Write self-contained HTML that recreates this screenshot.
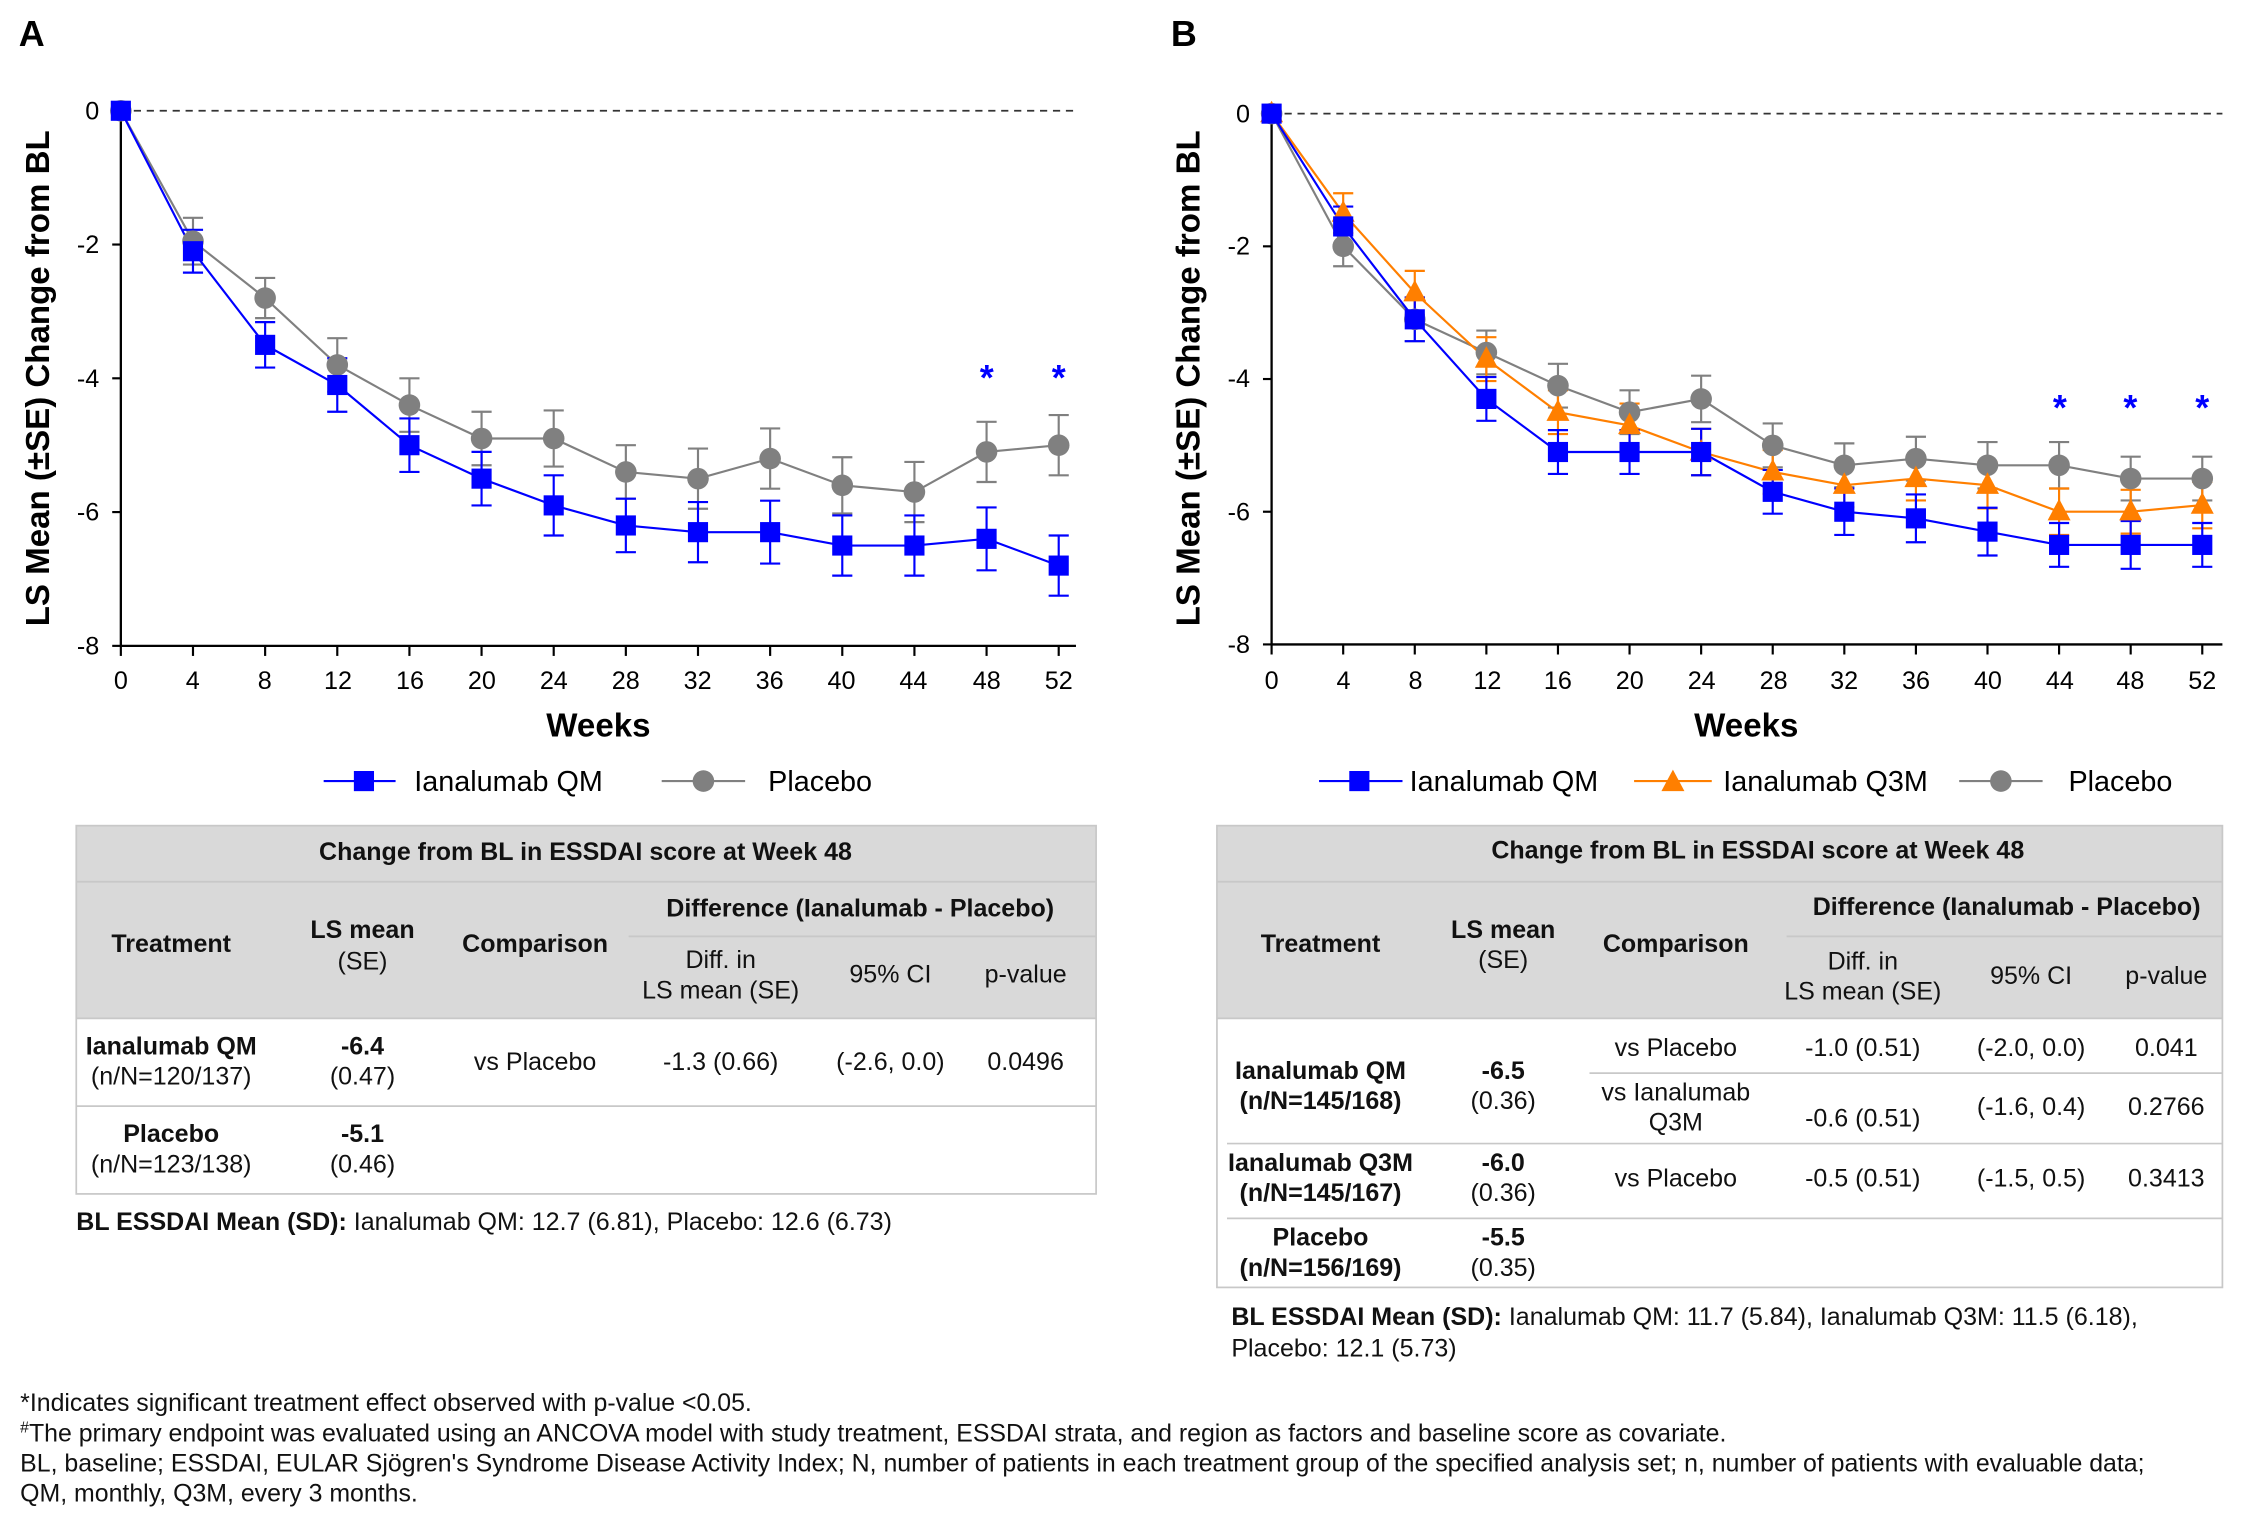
<!DOCTYPE html>
<html><head><meta charset="utf-8"><style>
html,body{margin:0;padding:0;background:#fff}
svg{display:block}
text{font-family:"Liberation Sans",sans-serif}
</style></head><body>
<svg id="s" width="2244" height="1520" viewBox="0 0 1560 1056.7" xmlns="http://www.w3.org/2000/svg">
<rect width="1560" height="1057" fill="#fff"/>
<text x="13" y="32" font-size="25" font-weight="bold">A</text>
<text x="814" y="32" font-size="25" font-weight="bold">B</text>
<g stroke="#000" stroke-width="1.6" fill="none">
<line x1="84" y1="70" x2="84" y2="449"/><line x1="84" y1="449" x2="748" y2="449"/>
<line x1="884" y1="72" x2="884" y2="448"/><line x1="884" y1="448" x2="1545" y2="448"/>
</g>
<line x1="84" y1="77" x2="748" y2="77" stroke="#333" stroke-width="1.2" stroke-dasharray="5,4"/>
<line x1="884" y1="79" x2="1545" y2="79" stroke="#333" stroke-width="1.2" stroke-dasharray="5,4"/>
<g id="ticks"></g>
<g font-size="17.5" text-anchor="end">
<text x="69" y="83">0</text><text x="69" y="176">-2</text><text x="69" y="269">-4</text><text x="69" y="362">-6</text><text x="69" y="455">-8</text>
<text x="869" y="85">0</text><text x="869" y="177">-2</text><text x="869" y="269">-4</text><text x="869" y="362">-6</text><text x="869" y="454">-8</text>
</g>
<g font-size="17.5" text-anchor="middle">
<text x="84" y="479">0</text><text x="134" y="479">4</text><text x="184" y="479">8</text><text x="235" y="479">12</text><text x="285" y="479">16</text><text x="335" y="479">20</text><text x="385" y="479">24</text><text x="435" y="479">28</text><text x="485" y="479">32</text><text x="535" y="479">36</text><text x="585" y="479">40</text><text x="635" y="479">44</text><text x="686" y="479">48</text><text x="736" y="479">52</text>
<text x="884" y="479">0</text><text x="934" y="479">4</text><text x="984" y="479">8</text><text x="1034" y="479">12</text><text x="1083" y="479">16</text><text x="1133" y="479">20</text><text x="1183" y="479">24</text><text x="1233" y="479">28</text><text x="1282" y="479">32</text><text x="1332" y="479">36</text><text x="1382" y="479">40</text><text x="1432" y="479">44</text><text x="1481" y="479">48</text><text x="1531" y="479">52</text>
</g>
<text x="416" y="512" font-size="23" font-weight="bold" text-anchor="middle">Weeks</text>
<text x="1214" y="512" font-size="23" font-weight="bold" text-anchor="middle">Weeks</text>
<text transform="translate(34,263) rotate(-90)" font-size="23" font-weight="bold" text-anchor="middle">LS Mean (±SE) Change from BL</text>
<text transform="translate(834,263) rotate(-90)" font-size="23" font-weight="bold" text-anchor="middle">LS Mean (±SE) Change from BL</text>
<g id="data"></g>
<g font-size="25" font-weight="bold" fill="#0000ff" text-anchor="middle">
<text x="686" y="271">*</text><text x="736" y="271">*</text>
<text x="1432" y="292">*</text><text x="1481" y="292">*</text><text x="1531" y="292">*</text>
</g>
<g font-size="20">
<line x1="225" y1="543" x2="275" y2="543" stroke="#0000ff" stroke-width="1.5"/><rect x="246" y="536" width="14" height="14" fill="#0000ff"/>
<text x="288" y="550">Ianalumab QM</text>
<line x1="460" y1="543" x2="518" y2="543" stroke="#808080" stroke-width="1.5"/><circle cx="489" cy="543" r="7.5" fill="#808080"/>
<text x="534" y="550">Placebo</text>
<line x1="917" y1="543" x2="975" y2="543" stroke="#0000ff" stroke-width="1.5"/><rect x="938" y="536" width="14" height="14" fill="#0000ff"/>
<text x="980" y="550">Ianalumab QM</text>
<line x1="1136" y1="543" x2="1190" y2="543" stroke="#ff7f00" stroke-width="1.5"/><polygon points="1163,535 1171,550 1155,550" fill="#ff7f00"/>
<text x="1198" y="550">Ianalumab Q3M</text>
<line x1="1362" y1="543" x2="1420" y2="543" stroke="#808080" stroke-width="1.5"/><circle cx="1391" cy="543" r="7.5" fill="#808080"/>
<text x="1438" y="550">Placebo</text>
</g>
<rect x="53" y="574" width="709" height="134" fill="#d9d9d9"/>
<rect x="53" y="574" width="709" height="256" fill="none" stroke="#c8c8c8" stroke-width="1.2"/>
<g stroke="#c8c8c8" stroke-width="1.2">
<line x1="53" y1="613" x2="762" y2="613"/><line x1="437" y1="651" x2="762" y2="651"/>
<line x1="53" y1="708" x2="762" y2="708"/><line x1="53" y1="769" x2="762" y2="769"/>
</g>
<g font-size="17.4" text-anchor="middle" fill="#111">
<text x="407" y="598" font-weight="bold">Change from BL in ESSDAI score at Week 48</text>
<text x="119" y="662" font-weight="bold">Treatment</text>
<text x="252" y="652" font-weight="bold">LS mean</text><text x="252" y="674">(SE)</text>
<text x="372" y="662" font-weight="bold">Comparison</text>
<text x="598" y="637" font-weight="bold">Difference (Ianalumab - Placebo)</text>
<text x="501" y="673">Diff. in</text><text x="501" y="694">LS mean (SE)</text>
<text x="619" y="683">95% CI</text><text x="713" y="683">p-value</text>
<text x="119" y="733" font-weight="bold">Ianalumab QM</text><text x="119" y="754">(n/N=120/137)</text>
<text x="252" y="733" font-weight="bold">-6.4</text><text x="252" y="754">(0.47)</text>
<text x="372" y="744">vs Placebo</text><text x="501" y="744">-1.3 (0.66)</text><text x="619" y="744">(-2.6, 0.0)</text><text x="713" y="744">0.0496</text>
<text x="119" y="794" font-weight="bold">Placebo</text><text x="119" y="815">(n/N=123/138)</text>
<text x="252" y="794" font-weight="bold">-5.1</text><text x="252" y="815">(0.46)</text>
</g>
<text x="53" y="855" font-size="17.4" fill="#111"><tspan font-weight="bold">BL ESSDAI Mean (SD):</tspan> Ianalumab QM: 12.7 (6.81), Placebo: 12.6 (6.73)</text>
<rect x="846" y="574" width="699" height="134" fill="#d9d9d9"/>
<rect x="846" y="574" width="699" height="321" fill="none" stroke="#c8c8c8" stroke-width="1.2"/>
<g stroke="#c8c8c8" stroke-width="1.2">
<line x1="846" y1="613" x2="1545" y2="613"/><line x1="1242" y1="651" x2="1545" y2="651"/>
<line x1="846" y1="708" x2="1545" y2="708"/><line x1="1105" y1="746" x2="1545" y2="746"/>
<line x1="853" y1="795" x2="1545" y2="795"/><line x1="853" y1="847" x2="1545" y2="847"/>
</g>
<g font-size="17.4" text-anchor="middle" fill="#111">
<text x="1222" y="597" font-weight="bold">Change from BL in ESSDAI score at Week 48</text>
<text x="918" y="662" font-weight="bold">Treatment</text>
<text x="1045" y="652" font-weight="bold">LS mean</text><text x="1045" y="673">(SE)</text>
<text x="1165" y="662" font-weight="bold">Comparison</text>
<text x="1395" y="636" font-weight="bold">Difference (Ianalumab - Placebo)</text>
<text x="1295" y="674">Diff. in</text><text x="1295" y="695">LS mean (SE)</text>
<text x="1412" y="684">95% CI</text><text x="1506" y="684">p-value</text>
<text x="918" y="750" font-weight="bold">Ianalumab QM</text><text x="918" y="771" font-weight="bold">(n/N=145/168)</text>
<text x="1045" y="750" font-weight="bold">-6.5</text><text x="1045" y="771">(0.36)</text>
<text x="1165" y="734">vs Placebo</text><text x="1295" y="734">-1.0 (0.51)</text><text x="1412" y="734">(-2.0, 0.0)</text><text x="1506" y="734">0.041</text>
<text x="1165" y="765">vs Ianalumab</text><text x="1165" y="786">Q3M</text><text x="1295" y="783">-0.6 (0.51)</text><text x="1412" y="775">(-1.6, 0.4)</text><text x="1506" y="775">0.2766</text>
<text x="918" y="814" font-weight="bold">Ianalumab Q3M</text><text x="918" y="835" font-weight="bold">(n/N=145/167)</text>
<text x="1045" y="814" font-weight="bold">-6.0</text><text x="1045" y="835">(0.36)</text>
<text x="1165" y="825">vs Placebo</text><text x="1295" y="825">-0.5 (0.51)</text><text x="1412" y="825">(-1.5, 0.5)</text><text x="1506" y="825">0.3413</text>
<text x="918" y="866" font-weight="bold">Placebo</text><text x="918" y="887" font-weight="bold">(n/N=156/169)</text>
<text x="1045" y="866" font-weight="bold">-5.5</text><text x="1045" y="887">(0.35)</text>
</g>
<text x="856" y="921" font-size="17.4" fill="#111"><tspan font-weight="bold">BL ESSDAI Mean (SD):</tspan> Ianalumab QM: 11.7 (5.84), Ianalumab Q3M: 11.5 (6.18),</text>
<text x="856" y="943" font-size="17.4" fill="#111">Placebo: 12.1 (5.73)</text>
<g font-size="17.3" fill="#111">
<text x="14" y="981">*Indicates significant treatment effect observed with p-value &lt;0.05.</text>
<text x="14" y="1002"><tspan font-size="11" dy="-6">#</tspan><tspan dy="6">The primary endpoint was evaluated using an ANCOVA model with study treatment, ESSDAI strata, and region as factors and baseline score as covariate.</tspan></text>
<text x="14" y="1023">BL, baseline; ESSDAI, EULAR Sjögren's Syndrome Disease Activity Index; N, number of patients in each treatment group of the specified analysis set; n, number of patients with evaluable data;</text>
<text x="14" y="1044">QM, monthly, Q3M, every 3 months.</text>
</g>
</svg>
<script>
var NS="http://www.w3.org/2000/svg",g=document.getElementById("data"),tk=document.getElementById("ticks");
function el(t,a,p){var e=document.createElementNS(NS,t);for(var k in a)e.setAttribute(k,a[k]);(p||g).appendChild(e);return e;}
var W=[0,4,8,12,16,20,24,28,32,36,40,44,48,52];
function panel(P,series){
 var X=function(w){return P.x0+(P.x52-P.x0)*w/52},Y=function(v){return P.y0+(P.y8-P.y0)*(-v)/8};
 W.forEach(function(w){el("line",{x1:X(w),x2:X(w),y1:P.y8,y2:P.y8+7,stroke:"#000","stroke-width":1.5},tk)});
 [0,-2,-4,-6,-8].forEach(function(v){el("line",{x1:P.x0-6,x2:P.x0,y1:Y(v),y2:Y(v),stroke:"#000","stroke-width":1.5},tk)});
 series.forEach(function(s){
  var pts=W.map(function(w,i){return X(w)+","+Y(s.v[i])}).join(" ");
  el("polyline",{points:pts,fill:"none",stroke:s.c,"stroke-width":1.5});
  W.forEach(function(w,i){if(!i)return;var x=X(w),a=Y(s.v[i]-s.se[i]),b=Y(s.v[i]+s.se[i]);
   el("line",{x1:x,x2:x,y1:a,y2:b,stroke:s.c,"stroke-width":1.5});
   el("line",{x1:x-7,x2:x+7,y1:a,y2:a,stroke:s.c,"stroke-width":1.5});
   el("line",{x1:x-7,x2:x+7,y1:b,y2:b,stroke:s.c,"stroke-width":1.5});});
 });
 series.forEach(function(s){W.forEach(function(w,i){var x=X(w),y=Y(s.v[i]);
  if(s.m=="s")el("rect",{x:x-7,y:y-7,width:14,height:14,fill:s.c});
  else if(s.m=="c")el("circle",{cx:x,cy:y,r:7.5,fill:s.c});
  else el("polygon",{points:x+","+(y-9)+" "+(x+8)+","+(y+6)+" "+(x-8)+","+(y+6),fill:s.c});});});
}
panel({x0:84,x52:736,y0:77,y8:449},[
 {c:"#808080",m:"c",v:[0,-1.95,-2.8,-3.8,-4.4,-4.9,-4.9,-5.4,-5.5,-5.2,-5.6,-5.7,-5.1,-5.0],se:[0,.35,.3,.4,.4,.4,.42,.4,.45,.45,.42,.45,.45,.45]},
 {c:"#0000ff",m:"s",v:[0,-2.1,-3.5,-4.1,-5.0,-5.5,-5.9,-6.2,-6.3,-6.3,-6.5,-6.5,-6.4,-6.8],se:[0,.32,.34,.4,.4,.4,.45,.4,.45,.47,.45,.45,.47,.45]}]);
panel({x0:884,x52:1531,y0:79,y8:448},[
 {c:"#808080",m:"c",v:[0,-2.0,-3.1,-3.6,-4.1,-4.5,-4.3,-5.0,-5.3,-5.2,-5.3,-5.3,-5.5,-5.5],se:[0,.3,.33,.33,.33,.33,.35,.33,.33,.33,.35,.35,.33,.33]},
 {c:"#ff7f00",m:"t",v:[0,-1.5,-2.7,-3.7,-4.5,-4.7,-5.1,-5.4,-5.6,-5.5,-5.6,-6.0,-6.0,-5.9],se:[0,.3,.33,.33,.33,.33,.35,.33,.33,.33,.35,.35,.33,.35]},
 {c:"#0000ff",m:"s",v:[0,-1.7,-3.1,-4.3,-5.1,-5.1,-5.1,-5.7,-6.0,-6.1,-6.3,-6.5,-6.5,-6.5],se:[0,.3,.33,.33,.33,.33,.35,.33,.35,.36,.36,.33,.36,.33]}]);
</script>
</body></html>
